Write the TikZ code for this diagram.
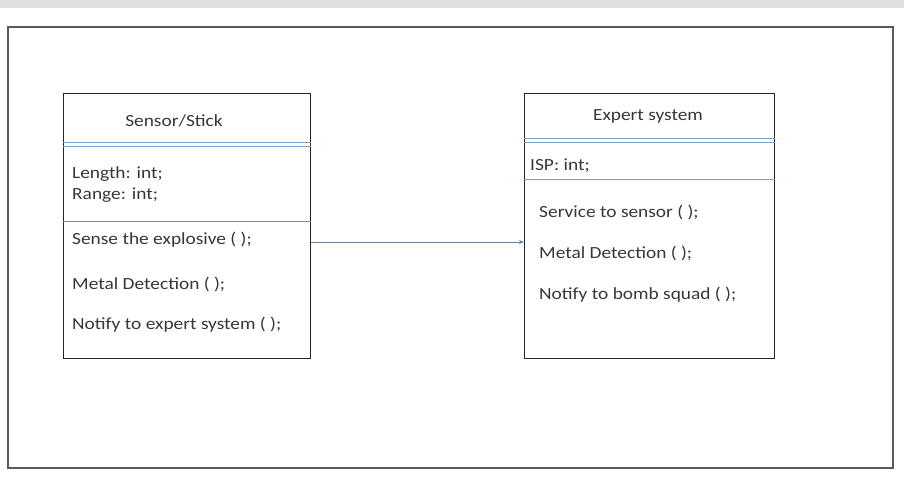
\documentclass[tikz,border=0pt]{standalone}
\usepackage{fontspec}
\setmainfont{Carlito}[FakeStretch=1.14]
\usetikzlibrary{arrows.meta}
\definecolor{sepblue}{RGB}{120,160,200}
\definecolor{txt}{RGB}{55,55,55}
\definecolor{framegray}{RGB}{90,90,90}
\tikzset{
  classbox/.style={draw=black!85, line width=1.1pt},
  sep/.style={draw=sepblue, line width=0.8pt},
  lbl/.style={anchor=west, inner sep=0pt, text=txt, font=\fontsize{17}{19}\selectfont},
  ttl/.style={anchor=center, inner sep=0pt, text=txt, font=\fontsize{17}{19}\selectfont},
  conn/.style={draw=sepblue!80!black, line width=0.8pt, -{Stealth[length=5pt,width=4pt]}}
}
\begin{document}
\begin{tikzpicture}[x=1pt,y=-1pt]
\useasboundingbox (0,0) rectangle (904,500);
\fill[black!12] (0,0) rectangle (904,8);
\draw[draw=framegray, line width=1.2pt] (8,27) rectangle (893,468);
% left class
\node[classbox, minimum width=247pt, minimum height=265pt, anchor=north west, inner sep=0pt] (L) at (63,93) {};
\draw[sep] (L.west |- 0,142) -- (L.east |- 0,142);
\draw[sep] (L.west |- 0,146) -- (L.east |- 0,146);
\draw[sep, draw=black!45] (L.west |- 0,221) -- (L.east |- 0,221);
\node[ttl] (Lt) at (174,121) {Sensor/Stick};
\node[lbl] (La1) at (72,174) {Length: int;};
\node[lbl] (La2) at (72,195) {Range: int;};
\node[lbl] (Lm1) at (72,240) {Sense the explosive ( );};
\node[lbl] (Lm2) at (72,284) {Metal Detection ( );};
\node[lbl] (Lm3) at (72,325) {Notify to expert system ( );};
% right class
\node[classbox, minimum width=250pt, minimum height=265pt, anchor=north west, inner sep=0pt] (R) at (524,93) {};
\draw[sep] (R.west |- 0,138) -- (R.east |- 0,138);
\draw[sep] (R.west |- 0,142) -- (R.east |- 0,142);
\draw[sep] (R.west |- 0,179) -- (R.east |- 0,179);
\node[ttl] (Rt) at (648,116) {Expert system};
\node[lbl] (Ra1) at (530,166) {ISP: int;};
\node[lbl] (Rm1) at (539,212) {Service to sensor ( );};
\node[lbl] (Rm2) at (539,253) {Metal Detection ( );};
\node[lbl] (Rm3) at (539,295) {Notify to bomb squad ( );};
% connector
\coordinate (a) at (L.east |- 0,242);
\coordinate (b) at (R.west |- 0,242);
\draw[conn] (a) -- (b);
\end{tikzpicture}
\end{document}
